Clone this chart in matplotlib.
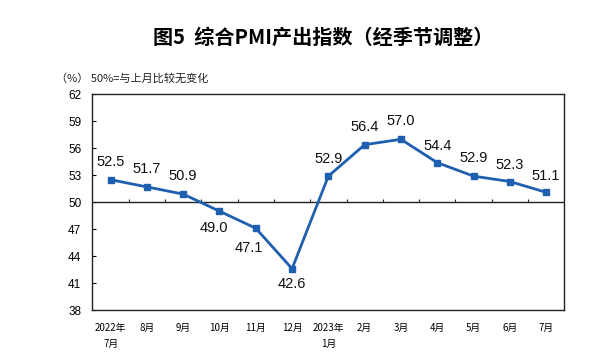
import matplotlib
matplotlib.use("Agg")
import matplotlib.pyplot as plt
import numpy as np

plt.rcParams['font.family'] = ['Noto Sans CJK SC', 'DejaVu Sans']

months = ['2022年\n7月', '8月', '9月', '10月', '11月', '12月', '2023年\n1月',
          '2月', '3月', '4月', '5月', '6月', '7月']
pmi = [52.5, 51.7, 50.9, 49.0, 47.1, 42.6, 52.9, 56.4, 57.0, 54.4, 52.9, 52.3, 51.1]
yticks = [38, 41, 44, 47, 50, 53, 56, 59, 62]

# label offsets in points (dx, dy)
offsets = [(0, 13), (0, 13), (0, 13), (-4, -12), (-5, -14), (0, -11), (0, 12),
           (0, 13), (0, 13), (0, 12), (0, 13), (0, 12), (0, 12)]

blue = '#1F5FB0'

fig = plt.figure(figsize=(5.89, 3.63), dpi=100)
ax = fig.add_axes([0.157, 0.146, 0.801, 0.594])

x = np.arange(len(pmi))
ax.plot(x, pmi, color=blue, lw=2, marker='s', ms=4.5, zorder=3)

for xi, v, (dx, dy) in zip(x, pmi, offsets):
    ax.annotate(f'{v:.1f}', (xi, v), xytext=(dx, dy), textcoords='offset points',
                ha='center', va='center', fontsize=10.5, family='Liberation Sans',
                color='#111111')

ax.set_xlim(-0.5, len(pmi) - 0.5)
ax.set_ylim(38, 62)
ax.set_yticks(yticks)
ax.set_yticklabels([str(t) for t in yticks], family='Liberation Sans', fontsize=8.5)
ax.tick_params(axis='y', direction='in', length=3, width=0.8, pad=8)

ax.set_xticks(x)
ax.set_xticklabels(months, fontsize=7, linespacing=1.8, va='top')
ax.tick_params(axis='x', length=0, pad=9)

# 50 baseline with small upward ticks between months
ax.axhline(50, color='#222222', lw=1, zorder=2)
ax.vlines(x[:-1] + 0.5, 50, 50.35, color='#222222', lw=0.8, zorder=2)

for s in ax.spines.values():
    s.set_color('#222222')
    s.set_linewidth(1)

fig.text(0.548, 0.898, '图5  综合PMI产出指数（经季节调整）', ha='center', va='center',
         fontsize=14.5, fontweight='bold')
fig.text(0.095, 0.785, '（%） 50%=与上月比较无变化', ha='left', va='center',
         fontsize=8, color='#222222')

fig.savefig('out.png', dpi=100)
